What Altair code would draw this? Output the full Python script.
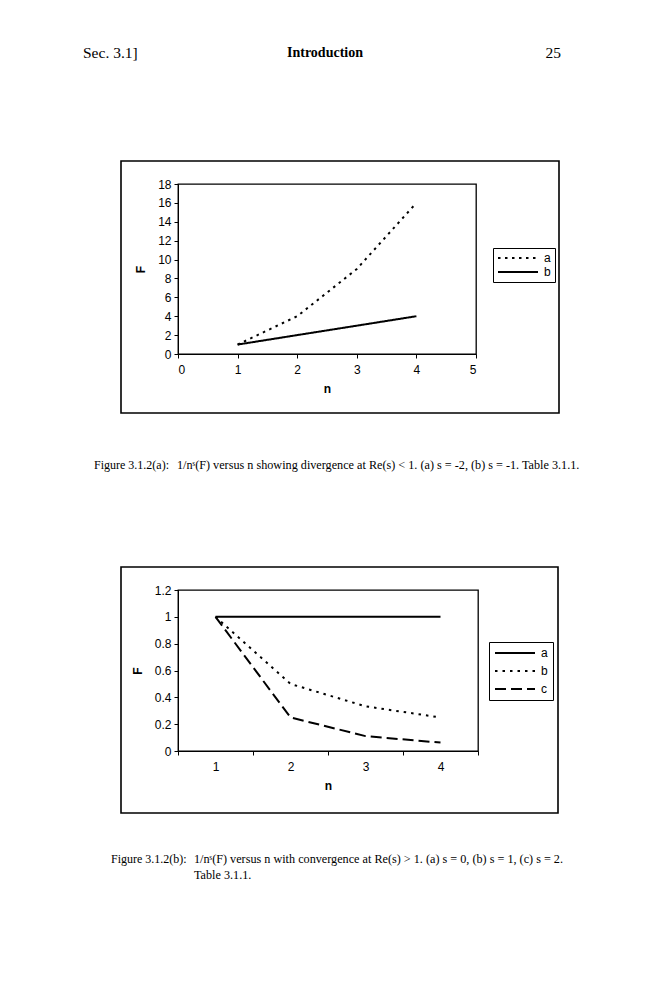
import altair as alt
import pandas as pd

# ---------------- data ----------------
n_a = [1, 2, 3, 4]
fig_a_series_a = [1, 4, 9, 16]      # s = -2
fig_a_series_b = [1, 2, 3, 4]       # s = -1

n_b = [1, 2, 3, 4]
fig_b_series_a = [1, 1, 1, 1]             # s = 0
fig_b_series_b = [1, 0.5, 0.333, 0.25]    # s = 1
fig_b_series_c = [1, 0.25, 0.111, 0.0625] # s = 2

x_ticks_a = [0, 1, 2, 3, 4, 5]
y_ticks_a = [0, 2, 4, 6, 8, 10, 12, 14, 16, 18]
y_ticks_b = [0, 0.2, 0.4, 0.6, 0.8, 1, 1.2]

header_left = "Sec. 3.1]"
header_mid = "Introduction"
header_right = "25"
cap_a_label = "Figure 3.1.2(a):"
cap_a_text = "1/nˢ(F) versus n showing divergence at Re(s) < 1. (a) s = -2, (b) s = -1. Table 3.1.1."
cap_b_label = "Figure 3.1.2(b):"
cap_b_text = ["1/nˢ(F) versus n with convergence at Re(s) > 1. (a) s = 0, (b) s = 1, (c) s = 2.",
              "Table 3.1.1."]

SANS = "Liberation Sans"
SERIF = "Liberation Serif"

df_a = pd.DataFrame({
    "n": n_a + n_a,
    "F": fig_a_series_a + fig_a_series_b,
    "s": ["a"] * len(n_a) + ["b"] * len(n_a),
})
df_b = pd.DataFrame({
    "n": n_b * 3,
    "F": fig_b_series_a + fig_b_series_b + fig_b_series_c,
    "s": ["a"] * 4 + ["b"] * 4 + ["c"] * 4,
})

axis_style = dict(
    grid=False, domainColor="black", tickColor="black", tickSize=4,
    labelFont=SANS, labelFontSize=12, labelColor="black",
    titleFont=SANS, titleFontSize=12, titleFontWeight="bold", titleColor="black",
)

one = pd.DataFrame({"k": [0]})
view_box = alt.ViewBackground(stroke="black", strokeWidth=1.3, strokeOpacity=1)


def text_layer(txt, x, y, align="left", size=11, weight="normal", font=SERIF, lh=15):
    return alt.Chart(pd.DataFrame({"t": [txt]})).mark_text(
        align=align, baseline="middle", font=font, fontSize=size,
        fontWeight=weight, color="black", lineHeight=lh,
    ).encode(x=alt.value(x), y=alt.value(y), text="t:N")


def frame(x1, x2, y1, y2):
    return alt.Chart(one).mark_rect(
        fillOpacity=0, stroke="black", strokeWidth=1.6
    ).encode(x=alt.value(x1), x2=alt.value(x2), y=alt.value(y1), y2=alt.value(y2))


legend_common = dict(
    orient="none", strokeColor="black", fillColor="white",
    symbolType="M-1,0H7", symbolSize=100, symbolStrokeWidth=2,
    symbolStrokeColor="black", symbolFillColor="black",
    labelFont=SANS, labelFontSize=12, labelColor="black", labelOffset=35,
)

# ---------------- figure (a) ----------------
lines_a = alt.Chart(df_a).mark_line(color="black", strokeWidth=2).encode(
    x=alt.X("n:Q", scale=alt.Scale(domain=[0, 5], nice=False),
            axis=alt.Axis(values=x_ticks_a, title="n", labelPadding=6, titlePadding=8, **axis_style)),
    y=alt.Y("F:Q", scale=alt.Scale(domain=[0, 18], nice=False),
            axis=alt.Axis(values=y_ticks_a, title="F", labelPadding=3, titlePadding=10, **axis_style)),
    strokeDash=alt.StrokeDash(
        "s:N", title=None,
        scale=alt.Scale(domain=["a", "b"], range=[[2.5, 4.5], [1, 0]]),
        legend=alt.Legend(legendX=315, legendY=64, padding=4, rowPadding=2, **legend_common),
    ),
)

fig_a = alt.layer(
    frame(-57, 381, -23, 229),
    lines_a,
    text_layer(header_left, -95, -131, "left", 15.5),
    text_layer(header_mid, 147, -131, "center", 14, "bold"),
    text_layer(header_right, 383, -131, "right", 15.5),
    text_layer(cap_a_label, -84, 281, "left", 12),
    text_layer(cap_a_text, -1, 281, "left", 12.2),
).properties(width=298, height=170, view=view_box)

# ---------------- figure (b) ----------------
lines_b = alt.Chart(df_b).mark_line(color="black", strokeWidth=2).encode(
    x=alt.X("n:O", scale=alt.Scale(type="band", paddingInner=0, paddingOuter=0),
            axis=alt.Axis(labelAngle=0, tickBand="extent", title="n", labelPadding=6,
                          titlePadding=8, **axis_style)),
    y=alt.Y("F:Q", scale=alt.Scale(domain=[0, 1.2], nice=False),
            axis=alt.Axis(values=y_ticks_b, format="~g", title="F", labelPadding=3,
                          titlePadding=10, **axis_style)),
    strokeDash=alt.StrokeDash(
        "s:N", title=None,
        scale=alt.Scale(domain=["a", "b", "c"], range=[[1, 0], [2.5, 5], [11, 5]]),
        legend=alt.Legend(legendX=311, legendY=52, padding=5, rowPadding=6, **legend_common),
    ),
)

fig_b = alt.layer(
    frame(-57, 380, -23, 223),
    lines_b,
    text_layer(cap_b_label, -67, 269, "left", 12),
    text_layer(cap_b_text, 16, 269, "left", 12.2, lh=16),
).properties(width=300, height=161, view=view_box)

chart = alt.vconcat(fig_a, fig_b, spacing=93).resolve_scale(
    x="independent", y="independent", strokeDash="independent"
).resolve_legend(strokeDash="independent").properties(
    padding={"left": 74, "top": 37, "right": 0, "bottom": 0}
).configure_view(stroke="black", strokeWidth=1.3).configure(background="white")

chart.save("out.html", embed_options={"renderer": "svg", "actions": False})
